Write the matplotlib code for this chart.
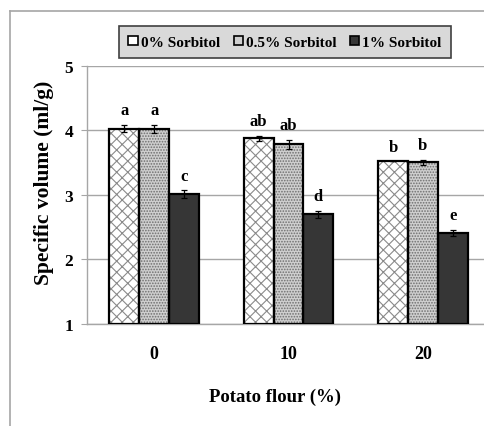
import numpy as np
import matplotlib
matplotlib.use("Agg")
import matplotlib.pyplot as plt
from matplotlib.patches import Patch
from matplotlib.lines import Line2D

# data
potato_flour = ["0", "10", "20"]
series_names = ["0% Sorbitol", "0.5% Sorbitol", "1% Sorbitol"]
sorb_0 = [4.03, 3.88, 3.52]
sorb_05 = [4.02, 3.79, 3.51]
sorb_1 = [3.01, 2.70, 2.41]
err_0 = [0.05, 0.04, 0.0]
err_05 = [0.06, 0.07, 0.04]
err_1 = [0.06, 0.05, 0.05]
letters_0 = ["a", "ab", "b"]
letters_05 = ["a", "ab", "b"]
letters_1 = ["c", "d", "e"]

plt.rcParams['font.family'] = ['Liberation Serif', 'DejaVu Serif']
plt.rcParams['font.weight'] = 'bold'
plt.rcParams['hatch.linewidth'] = 0.8

fig = plt.figure(figsize=(4.84, 4.27), dpi=100)
ax = fig.add_axes([0.1798, 0.2389, 0.8326, 0.6042])

x = np.arange(len(potato_flour))
w = 0.2222

styles = [
    dict(face="white", hatch="xxx", hcol="#8a8a8a"),
    dict(face="#cfcfcf", hatch="......", hcol="#6e6e6e"),
    dict(face="#363636", hatch=None, hcol="#363636"),
]
values = [sorb_0, sorb_05, sorb_1]
errors = [err_0, err_05, err_1]
letters = [letters_0, letters_05, letters_1]

for i, (vals, errs, labs, st) in enumerate(zip(values, errors, letters, styles)):
    xs = x + (i - 1) * w
    # fill + hatch, then black outline on top
    ax.bar(xs, np.array(vals) - 1, w, bottom=1, color=st["face"], hatch=st["hatch"],
           edgecolor=st["hcol"], linewidth=0, zorder=2)
    ax.bar(xs, np.array(vals) - 1, w, bottom=1, fill=False, edgecolor="black",
           linewidth=1.6, zorder=3)
    ax.errorbar(xs, vals, yerr=errs, fmt="none", ecolor="black", elinewidth=0.9,
                capsize=2.5, capthick=0.9, zorder=4)
    for xi, v, e, t in zip(xs, vals, errs, labs):
        ax.annotate(t, (xi, v + e), xytext=(0, 5), textcoords="offset points",
                    ha="center", va="bottom", fontsize=12, fontweight="bold")

ax.set_xlim(-0.5, 2.5)
ax.set_ylim(1, 5)
ax.set_yticks([1, 2, 3, 4, 5])
ax.set_xticks(x)
ax.set_xticklabels(potato_flour)
ax.yaxis.grid(True, color="#a6a6a6", linewidth=1)
ax.set_axisbelow(True)
for s in ["top", "right"]:
    ax.spines[s].set_visible(False)
for s in ["left", "bottom"]:
    ax.spines[s].set_color("#a6a6a6")
    ax.spines[s].set_linewidth(1)
ax.tick_params(axis="y", length=4, color="#a6a6a6", pad=6, labelsize=12.5)
ax.tick_params(axis="x", length=0, pad=15, labelsize=13)

fig.text(0.568, 0.070, "Potato flour (%)", ha="center", va="center",
         fontsize=13.5, fontweight="bold")
fig.text(0.091, 0.571, "Specific volume (ml/g)", ha="center", va="center",
         rotation=90, fontsize=15.5, fontweight="bold")

handles = [Patch(facecolor=st["face"], edgecolor="black", linewidth=1.2)
           for st in styles]
leg = fig.legend(handles, series_names, ncol=3, loc="center",
                 bbox_to_anchor=(0.589, 0.899), frameon=True, fancybox=False,
                 framealpha=1, facecolor="#d9d9d9", edgecolor="#404040",
                 handlelength=0.6, handleheight=0.6, handletextpad=0.2,
                 columnspacing=0.9, borderpad=0.6, prop=dict(size=11, weight="bold"))
leg.get_frame().set_linewidth(1.2)

# outer frame lines of the original chart area
fig.add_artist(Line2D([10 / 484, 10 / 484], [0, 1 - 12 / 427], color="#a6a6a6", lw=1.2))
fig.add_artist(Line2D([10 / 484, 1], [1 - 12 / 427, 1 - 12 / 427], color="#a6a6a6", lw=1.2))

fig.savefig("out.png", dpi=100)
